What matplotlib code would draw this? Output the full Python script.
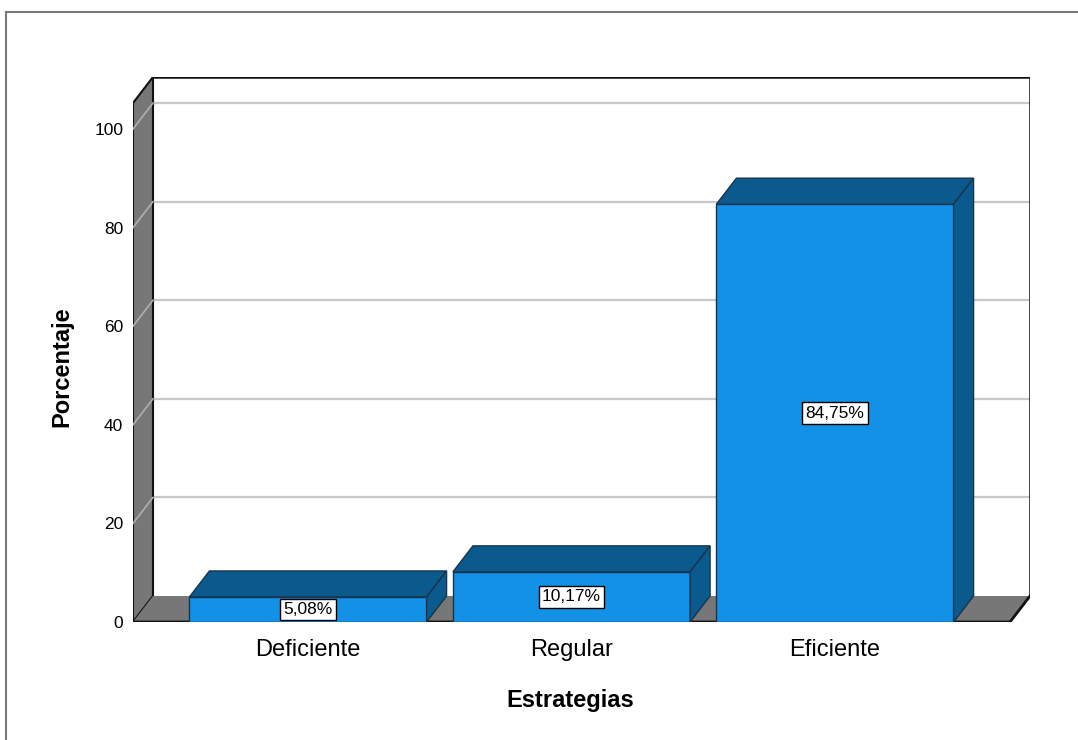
import numpy as np
import matplotlib.pyplot as plt
from matplotlib.patches import Polygon, Rectangle
from matplotlib.lines import Line2D

categorias = ['Deficiente', 'Regular', 'Eficiente']
porcentajes = [5.08, 10.17, 84.75]
etiquetas = ['5,08%', '10,17%', '84,75%']
yticks = [0, 20, 40, 60, 80, 100]

plt.rcParams['font.family'] = ['Liberation Sans', 'DejaVu Sans']

W, H = 1078, 740
fig = plt.figure(figsize=(W / 100, H / 100), dpi=100)

# axes box in pixels (front-left corner at zero, back-top corner)
px_left, px_right, px_zero, px_top = 133, 1030, 622, 77
ax = fig.add_axes([px_left / W, (H - px_zero) / H,
                   (px_right - px_left) / W, (px_zero - px_top) / H])

step = 263.5      # px between categories
ppu = 4.93        # px per percent
x0 = -(308 - px_left) / step
x1 = (px_right - 308) / step
ytop = (px_zero - px_top) / ppu
dx = 20 / step
dy = 26 / ppu

ax.set_xlim(x0, x1)
ax.set_ylim(0, ytop)
for s in ax.spines.values():
    s.set_visible(False)
ax.patch.set_visible(False)

# back wall
ax.add_patch(Polygon([(x0 + dx, dy), (x1, dy), (x1, ytop), (x0 + dx, ytop)],
                     closed=True, facecolor='white', edgecolor='none', zorder=0))
for v in yticks[1:]:
    ax.add_line(Line2D([x0 + dx, x1], [v + dy, v + dy], color='#c8c8c8', lw=1.6, zorder=1))

# left wall
ax.add_patch(Polygon([(x0, 0), (x0, ytop - dy), (x0 + dx, ytop), (x0 + dx, dy)],
                     closed=True, facecolor='#777777', edgecolor='#111111', lw=1.5, zorder=2))
for v in yticks[1:]:
    ax.add_line(Line2D([x0, x0 + dx], [v, v + dy], color='#b0b0b0', lw=1.2, zorder=3))

# floor
ax.add_patch(Polygon([(x0, 0), (x1 - dx, 0), (x1, dy), (x0 + dx, dy)],
                     closed=True, facecolor='#777777', edgecolor='none', zorder=2))
ax.add_line(Line2D([x0, x1 - dx, x1], [0, 0, dy], color='#111111', lw=2, zorder=3))

# wall outline
ax.add_line(Line2D([x0 + dx, x1, x1], [ytop, ytop, dy], color='#111111', lw=1.8, zorder=3))

# bars
w = 0.9
c_front = '#1391e6'
c_dark = '#0b5a8e'
c_edge = '#17344c'
for i, v in enumerate(porcentajes):
    l, r = i - w / 2, i + w / 2
    ax.add_patch(Rectangle((l, 0), w, v, facecolor=c_front, edgecolor=c_edge, lw=1, zorder=5))
    ax.add_patch(Polygon([(l, v), (r, v), (r + dx, v + dy), (l + dx, v + dy)],
                         closed=True, facecolor=c_dark, edgecolor=c_edge, lw=1, zorder=5))
    ax.add_patch(Polygon([(r, 0), (r + dx, dy), (r + dx, v + dy), (r, v)],
                         closed=True, facecolor=c_dark, edgecolor=c_edge, lw=1, zorder=5))
    ax.text(i, v / 2, etiquetas[i], ha='center', va='center', fontsize=12.5, zorder=6,
            bbox=dict(boxstyle='square,pad=0.18', facecolor='white', edgecolor='black', lw=1))

ax.set_yticks(yticks)
ax.set_yticklabels([str(t) for t in yticks], fontsize=12.5)
ax.tick_params(axis='y', length=0, pad=7)
ax.set_xticks(range(len(categorias)))
ax.set_xticklabels(categorias, fontsize=17)
ax.tick_params(axis='x', length=0, pad=12)

fig.text(570 / W, 1 - 701 / H, 'Estrategias', ha='center', va='center',
         fontsize=17, fontweight='bold')
fig.text(62 / W, 1 - 367 / H, 'Porcentaje', ha='center', va='center',
         fontsize=17, fontweight='bold', rotation=90)

# outer frame
fig.add_artist(Line2D([6 / W, 1], [1 - 12 / H, 1 - 12 / H], color='#7a7a7a', lw=1.5))
fig.add_artist(Line2D([6 / W, 6 / W], [0, 1 - 12 / H], color='#7a7a7a', lw=1.5))

fig.savefig('out.png', dpi=100)
